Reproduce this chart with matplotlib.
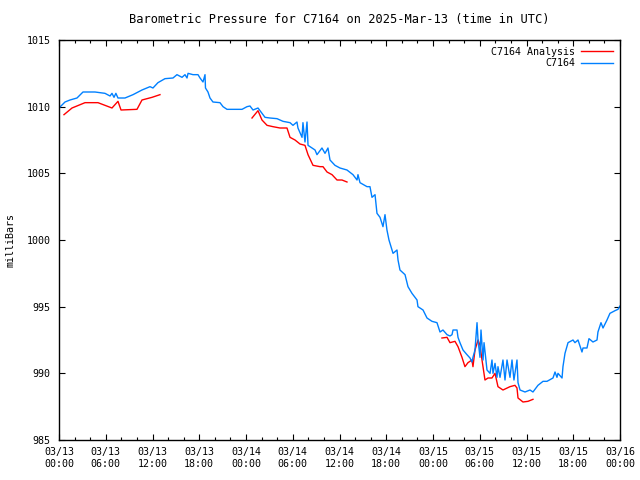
#!/usr/bin/env python3
# -*- coding: utf-8 -*-
"""
Barometric pressure chart for station C7164, gnuplot-like look.
"""

import numpy as np
import pandas as pd
import matplotlib
matplotlib.use("Agg")
import matplotlib.pyplot as plt
import matplotlib.dates as mdates

TITLE = "Barometric Pressure for C7164 on 2025-Mar-13 (time in UTC)"
START = pd.Timestamp("2025-03-13 00:00")

# station observations: hours since START, pressure [mb]
obs_hours = [
    0.0, 0.77, 1.41, 2.31, 3.08, 4.62, 5.9, 6.55, 6.8, 7.06, 7.3, 7.57, 8.47, 9.5,
    10.65, 11.68, 12.06, 12.7, 13.6, 14.63, 15.14, 15.79, 16.17, 16.43, 16.56,
    17.2, 17.84, 18.1, 18.48, 18.74, 18.8, 19.12, 19.38, 19.76, 20.66, 21.05,
    21.56, 22.2, 23.49, 24.13, 24.51, 24.9, 25.54, 26.44, 27.08, 27.98, 28.75,
    29.65, 30.03, 30.54, 30.67, 31.19, 31.31, 31.57, 31.83, 31.96, 32.47, 32.86,
    33.11, 33.75, 34.14, 34.52, 34.78, 35.42, 36.06, 36.96, 37.73, 38.25, 38.37,
    38.63, 39.53, 39.91, 40.17, 40.56, 40.81, 41.2, 41.58, 41.84, 42.09, 42.35,
    42.87, 43.38, 43.51, 43.76, 44.41, 44.79, 45.3, 45.95, 46.07, 46.72, 47.23,
    47.87, 48.51, 48.9, 49.28, 49.8, 50.18, 50.44, 50.57, 51.08, 51.21, 51.46,
    51.85, 52.36, 52.75, 53.0, 53.13, 53.39, 53.65, 53.78, 54.03, 54.16, 54.42,
    54.55, 54.93, 55.32, 55.57, 55.7, 55.96, 56.21, 56.34, 56.6, 56.98, 57.24,
    57.5, 57.88, 58.14, 58.39, 58.78, 58.91, 59.17, 59.81, 60.45, 60.83, 61.47,
    62.12, 62.63, 63.4, 63.66, 63.91, 64.04, 64.56, 64.68, 64.94, 65.33, 65.97,
    66.22, 66.61, 67.12, 67.25, 67.76, 68.02, 68.53, 69.05, 69.17, 69.56, 69.82,
    70.33, 70.71, 71.36, 71.74, 72.0,
]
obs_mb = [
    1009.9, 1010.35, 1010.5, 1010.65, 1011.1, 1011.1, 1011.0, 1010.8, 1011.0,
    1010.7, 1011.0, 1010.65, 1010.65, 1010.9, 1011.25, 1011.5, 1011.4, 1011.8,
    1012.1, 1012.15, 1012.4, 1012.2, 1012.4, 1012.15, 1012.5, 1012.4, 1012.4,
    1012.15, 1011.85, 1012.4, 1011.4, 1011.1, 1010.65, 1010.35, 1010.3, 1010.0,
    1009.8, 1009.8, 1009.8, 1010.0, 1010.05, 1009.75, 1009.9, 1009.2, 1009.15,
    1009.1, 1008.9, 1008.8, 1008.6, 1008.85, 1008.4, 1007.7, 1008.8, 1007.35,
    1008.85, 1007.1, 1006.9, 1006.75, 1006.4, 1006.9, 1006.5, 1006.9, 1006.0,
    1005.6, 1005.4, 1005.25, 1004.9, 1004.5, 1004.9, 1004.3, 1004.0, 1004.0,
    1003.2, 1003.4, 1002.0, 1001.7, 1001.0, 1001.9, 1000.75, 1000.0, 999.0,
    999.25, 998.5, 997.75, 997.4, 996.5, 996.0, 995.5, 995.0, 994.75, 994.15,
    993.9, 993.8, 993.1, 993.25, 992.9, 992.8, 992.9, 993.25, 993.25, 992.7,
    992.3, 991.75, 991.4, 991.15, 990.85, 991.2, 991.75, 993.8, 992.5, 991.2,
    993.25, 991.0, 992.3, 990.25, 990.0, 991.0, 990.0, 990.75, 989.7, 990.5,
    989.7, 991.0, 989.5, 991.0, 989.7, 991.0, 989.5, 991.0, 989.3, 988.75,
    988.6, 988.75, 988.6, 989.1, 989.4, 989.4, 989.65, 990.1, 989.7, 990.0,
    989.65, 990.5, 991.5, 992.3, 992.5, 992.3, 992.5, 991.6, 991.9, 991.9,
    992.6, 992.35, 992.5, 993.1, 993.8, 993.4, 994.0, 994.5, 994.7, 994.8,
    995.05,
]

# analysis values, NaN marks gaps between segments
ana_hours = [
    0.64, 1.67, 3.34, 5.0, 6.8, 7.57, 7.96, 10.01, 10.65, 11.94, 12.96, np.nan,
    24.77, 25.54, 26.05, 26.7, 27.46, 28.36, 29.26, 29.65, 30.29, 30.93, 31.57,
    31.96, 32.6, 33.5, 33.88, 34.4, 35.04, 35.68, 36.32, 36.96, np.nan,
    49.15, 49.8, 50.18, 50.82, 51.21, 51.72, 52.1, 52.49, 53.0, 53.13, 53.39,
    53.78, 54.03, 54.29, 54.67, 55.06, 55.57, 55.96, 56.34, 56.98, 57.88, 58.52,
    58.78, 58.91, 59.55, 60.19, 60.83,
]
ana_mb = [
    1009.4, 1009.9, 1010.3, 1010.3, 1009.9, 1010.4, 1009.75, 1009.8, 1010.5,
    1010.7, 1010.9, np.nan,
    1009.15, 1009.7, 1009.0, 1008.6, 1008.5, 1008.4, 1008.4, 1007.7, 1007.5,
    1007.2, 1007.1, 1006.4, 1005.6, 1005.5, 1005.5, 1005.1, 1004.9, 1004.5,
    1004.5, 1004.35, np.nan,
    992.65, 992.7, 992.3, 992.4, 992.0, 991.2, 990.5, 990.8, 991.0, 990.5,
    991.75, 992.5, 992.1, 991.0, 989.5, 989.65, 989.65, 990.0, 989.0, 988.75,
    989.0, 989.1, 988.9, 988.15, 987.85, 987.9, 988.05,
]

Y_TICKS = [985, 990, 995, 1000, 1005, 1010, 1015]

plt.rcParams["font.family"] = ["DejaVu Sans Mono"]
plt.rcParams["font.size"] = 7.2


def to_time(hours):
    return [START + pd.Timedelta(hours=h) if not np.isnan(h) else pd.NaT for h in hours]


fig = plt.figure(figsize=(6.4, 4.8), dpi=100)
ax = fig.add_axes([59 / 640, 40 / 480, 561 / 640, 400 / 480])

ana_t = pd.to_datetime(pd.Series(to_time(ana_hours)))
obs_t = pd.to_datetime(pd.Series(to_time(obs_hours)))

ax.plot(ana_t, ana_mb, color="#ff0000", linewidth=1.0, label="C7164 Analysis")
ax.plot(obs_t, obs_mb, color="#0080ff", linewidth=1.0, label="C7164")

ax.set_xlim(START, START + pd.Timedelta(hours=72))
ax.set_ylim(985, 1015)
ax.set_yticks(Y_TICKS)
ax.set_yticklabels([str(v) for v in Y_TICKS])

ax.xaxis.set_major_locator(mdates.HourLocator(byhour=[0, 6, 12, 18]))
ax.xaxis.set_minor_locator(mdates.HourLocator(byhour=range(0, 24, 2)))
ax.xaxis.set_major_formatter(mdates.DateFormatter("%m/%d\n%H:%M"))

ax.tick_params(which="both", direction="in", top=True, right=True, color="black")
ax.tick_params(which="major", length=4.5, width=0.8, pad=5)
ax.tick_params(axis="y", which="major", pad=6)
ax.tick_params(which="minor", length=2.5, width=0.8)
for side in ax.spines.values():
    side.set_linewidth(1.0)

ax.set_title(TITLE, pad=12)
ax.set_ylabel("milliBars", labelpad=8)

ax.legend(loc="upper right", frameon=False, markerfirst=False, handlelength=3.2,
          handletextpad=0.6, borderaxespad=0.3, labelspacing=0.15)

fig.savefig("out.png", dpi=100)
